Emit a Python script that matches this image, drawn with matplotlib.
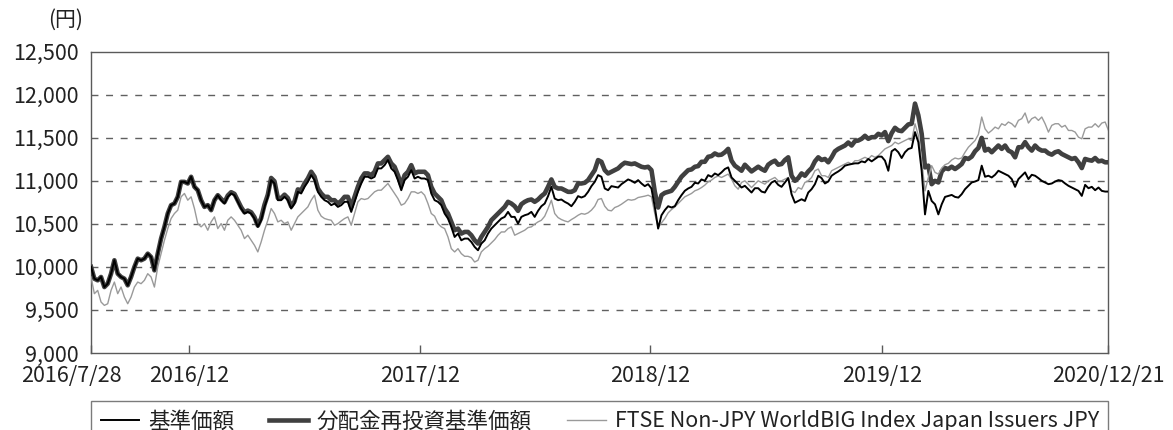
import matplotlib
matplotlib.use("Agg")
import matplotlib.pyplot as plt
import matplotlib.transforms as mtransforms
import pandas as pd

plt.rcParams["font.family"] = ["Noto Sans CJK JP", "DejaVu Sans"]

START, END = "2016-07-28", "2020-12-21"

# 基準価額 (NAV)
nav = [
    10000, 9863, 9844, 9883, 9766, 9805, 9921, 10077, 9921, 9883, 9863, 9786, 9883, 9999, 10096, 10077,
    10096, 10154, 10115, 9960, 10154, 10329, 10465, 10620, 10717, 10736, 10814, 10988, 10988, 10969, 11047,
    10930, 10891, 10775, 10697, 10717, 10659, 10775, 10833, 10775, 10736, 10814, 10853, 10833, 10756, 10678,
    10620, 10639, 10620, 10562, 10465, 10542, 10697, 10814, 11008, 10969, 10775, 10775, 10814, 10775, 10678,
    10736, 10872,
    10853, 10930, 10988, 11066, 11008, 10872, 10814, 10775, 10756, 10717, 10736, 10697, 10717, 10756, 10756,
    10639, 10756, 10872, 10969, 11047, 11047, 11027, 11047, 11144, 11144, 11182, 11241, 11144, 11105, 11008,
    10891, 11008, 11047, 11124, 11027, 11047, 11027, 11027, 11008, 10853, 10775, 10756, 10717, 10620, 10562,
    10465, 10348, 10387, 10309, 10329, 10329, 10290, 10232, 10193, 10271, 10309, 10387, 10445, 10484, 10523,
    10562, 10581, 10639,
    10581, 10581, 10503, 10581, 10600, 10612, 10639, 10581, 10651, 10705, 10736, 10822, 10930, 10794, 10775,
    10783, 10756, 10736, 10705, 10756, 10822, 10806, 10822, 10872, 10938, 10988, 11066, 11047, 10911, 10891,
    10938, 10930, 10922, 10961, 10988, 11016, 11000, 10977, 11008, 10969, 10938, 10961, 10911, 10697, 10445,
    10600, 10659, 10705, 10690, 10705, 10775, 10833, 10884, 10911, 10930, 10977, 10969, 11016, 11000, 11066,
    11047, 11085, 11066,
    11098, 11137, 11156, 11039, 11000, 10961, 10922, 10942, 10903, 10864, 10914, 10914, 10875, 10864, 10930,
    10980, 11000, 10953, 10930, 10980, 11031, 10844, 10746, 10766, 10786, 10766, 10864, 10903, 10961, 11059,
    11031, 10969, 10992, 11059, 11086, 11109, 11137, 11176, 11187, 11195, 11203, 11203, 11226, 11215, 11254,
    11226, 11254, 11281, 11281, 11234, 11117, 11343, 11370, 11332, 11265, 11332, 11370, 11382, 11566, 11449,
    11117, 10610, 10883,
    10766, 10727, 10610, 10727, 10813, 10825, 10836, 10813, 10805, 10845, 10903, 10942, 10981, 10992, 11008,
    11176, 11047, 11059, 11039, 11070, 11117, 11098, 11078, 11059, 11020, 10930, 11020, 11059, 11098, 11020,
    11070, 11059, 11031, 11000, 10981, 10961, 10969, 10992, 11008, 11000, 10969, 10942, 10922, 10903, 10883,
    10825, 10953, 10914, 10930, 10891, 10922, 10883, 10875, 10875,
]

# 分配金再投資基準価額 (NAV with distributions reinvested)
nav_reinvested = [
    10000, 9863, 9844, 9883, 9766, 9805, 9921, 10077, 9921, 9883, 9863, 9786, 9883, 9999, 10096, 10077,
    10096, 10154, 10115, 9960, 10154, 10329, 10465, 10620, 10717, 10736, 10814, 10988, 10988, 10969, 11047,
    10930, 10891, 10775, 10697, 10717, 10659, 10775, 10833, 10790, 10751, 10829, 10868, 10848, 10771, 10693,
    10635, 10654, 10635, 10577, 10480, 10567, 10722, 10839, 11033, 10994, 10800, 10800, 10839, 10800, 10703,
    10761, 10900,
    10891, 10969, 11027, 11105, 11047, 10911, 10853, 10814, 10814, 10775, 10775, 10736, 10767, 10814, 10814,
    10697, 10814, 10930, 11027, 11086, 11086, 11066, 11105, 11202, 11202, 11241, 11279, 11202, 11163, 11066,
    10950, 11066, 11105, 11182, 11086, 11105, 11105, 11105, 11066, 10930, 10853, 10814, 10775, 10678, 10620,
    10523, 10426, 10445, 10387, 10406, 10406, 10368, 10309, 10271, 10348, 10406, 10465, 10542, 10581, 10620,
    10659, 10697, 10756,
    10736, 10705, 10651, 10728, 10756, 10775, 10783, 10756, 10783, 10822, 10853, 10930, 11016, 10930, 10911,
    10911, 10891, 10872, 10872, 10891, 10969, 10969, 10977, 11008, 11066, 11124, 11241, 11221, 11124, 11085,
    11105, 11124, 11144, 11182, 11210, 11202, 11194, 11202, 11182, 11163, 11155, 11163, 11124, 10872, 10690,
    10833, 10860, 10872, 10884, 10930, 10988, 11047, 11085, 11124, 11132, 11163, 11171, 11221, 11221, 11279,
    11287, 11318, 11299,
    11304, 11332, 11371, 11234, 11176, 11148, 11117, 11187, 11148, 11109, 11137, 11164, 11137, 11117, 11187,
    11215, 11234, 11187, 11195, 11242, 11273, 11059, 11000, 11031, 11086, 11059, 11109, 11148, 11226, 11273,
    11242, 11254, 11215, 11273, 11343, 11371, 11390, 11410, 11445, 11410, 11461, 11468, 11488, 11523, 11488,
    11507, 11507, 11546, 11527, 11566, 11461, 11554, 11616, 11585, 11577, 11616, 11655, 11663, 11897, 11761,
    11546, 11156, 11176,
    10961, 11000, 10981, 11109, 11148, 11137, 11164, 11137, 11164, 11195, 11265, 11254, 11281, 11343, 11382,
    11499, 11351, 11371, 11332, 11371, 11410, 11371, 11410, 11351, 11332, 11273, 11390, 11390, 11449, 11390,
    11351, 11410, 11371, 11351, 11351, 11320, 11304, 11332, 11343, 11312, 11293, 11273, 11254, 11265, 11215,
    11148, 11254, 11242, 11234, 11265, 11226, 11234, 11215, 11215,
]

# FTSE Non-JPY WorldBIG Index Japan Issuers JPY (rebased)
benchmark = [
    9883, 9689, 9727, 9592, 9553, 9572, 9727, 9824, 9689, 9766, 9650, 9572, 9650, 9766, 9824, 9805,
    9844, 9921, 9883, 9766, 9999, 10154, 10309, 10445, 10562, 10620, 10659, 10814, 10853, 10775, 10814,
    10678, 10503, 10465, 10503, 10426, 10523, 10581, 10445, 10503, 10426, 10542, 10581, 10542, 10484, 10426,
    10329, 10368, 10309, 10251, 10174, 10290, 10426, 10542, 10678, 10620, 10523, 10542, 10503, 10523, 10426,
    10503, 10581,
    10620, 10659, 10697, 10775, 10833, 10659, 10589, 10562, 10550, 10542, 10484, 10503, 10534, 10562, 10581,
    10484, 10620, 10756, 10794, 10783, 10794, 10833, 10872, 10891, 10891, 10930, 10969, 10911, 10853, 10794,
    10717, 10736, 10794, 10872, 10872, 10853, 10872, 10833, 10736, 10620, 10589, 10503, 10465, 10445, 10348,
    10212, 10174, 10212, 10154, 10123, 10123, 10108, 10057, 10077, 10174, 10212, 10240, 10278, 10317, 10368,
    10406, 10406, 10445,
    10465, 10368, 10387, 10406, 10426, 10457, 10465, 10496, 10523, 10542, 10589, 10678, 10775, 10620, 10573,
    10550, 10534, 10523, 10550, 10573, 10600, 10620, 10612, 10628, 10659, 10705, 10783, 10794, 10705, 10659,
    10651, 10690, 10705, 10728, 10756, 10783, 10775, 10783, 10806, 10814, 10822, 10833, 10814, 10620, 10457,
    10511, 10562, 10628, 10666, 10697, 10736, 10775, 10814, 10833, 10853, 10884, 10899, 10922, 10950, 10988,
    11008, 11039, 11055,
    11039, 11059, 11078, 11020, 10942, 10903, 10981, 11000, 10961, 10922, 10961, 11000, 10981, 10961, 11000,
    11020, 11039, 11000, 11000, 11020, 11039, 10883, 10864, 10922, 10903, 10981, 11000, 11039, 11117, 11137,
    11059, 11059, 11039, 11117, 11137, 11156, 11176, 11195, 11215, 11195, 11234, 11234, 11254, 11273, 11254,
    11293, 11273, 11293, 11332, 11371, 11390, 11410, 11449, 11429, 11449, 11468, 11488, 11468, 11663, 11527,
    11234, 10883, 11039,
    11176, 11098, 11078, 11148, 11187, 11203, 11242, 11265, 11254, 11265, 11332, 11390, 11429, 11468, 11538,
    11741, 11604, 11554, 11585, 11624, 11604, 11663, 11644, 11683, 11663, 11624, 11702, 11722, 11788, 11671,
    11722, 11741, 11702, 11741, 11663, 11566, 11644, 11663, 11663, 11624, 11644, 11585, 11585, 11566, 11507,
    11488, 11604, 11624, 11624, 11663, 11624, 11671, 11683, 11585,
]

tick_dates = ["2016-07-28", "2016-12-30", "2017-12-29", "2018-12-28", "2019-12-30", "2020-12-21"]
tick_labels = ["2016/7/28", "2016/12", "2017/12", "2018/12", "2019/12", "2020/12/21"]
y_ticks = [9000, 9500, 10000, 10500, 11000, 11500, 12000, 12500]
series_labels = ["基準価額", "分配金再投資基準価額", "FTSE Non-JPY WorldBIG Index Japan Issuers JPY"]

TEXT = "#222222"
FRAME = "#5a5a5a"


def main():
    dates = pd.date_range(START, END, periods=len(nav))

    fig = plt.figure(figsize=(11.73, 4.30), dpi=100)
    ax = fig.add_axes([0.0776, 0.1791, 0.8674, 0.7007])

    ax.plot(dates, nav_reinvested, color="#404040", lw=3.3, solid_joinstyle="round",
            label=series_labels[1], zorder=3)
    ax.plot(dates, benchmark, color="#9a9a9a", lw=1.0, label=series_labels[2], zorder=4)
    ax.plot(dates, nav, color="black", lw=1.4, label=series_labels[0], zorder=5)

    ax.set_xlim(pd.Timestamp(START), pd.Timestamp(END))
    ax.set_ylim(9000, 12500)

    for v in y_ticks[1:-1]:
        ax.axhline(v, color="#606060", lw=1.0, ls=(0, (5, 5.5)), zorder=1)

    ax.set_yticks(y_ticks)
    ax.set_yticklabels([f"{v:,}" for v in y_ticks])
    ax.set_xticks(pd.to_datetime(tick_dates))
    ax.set_xticklabels(tick_labels)
    ax.tick_params(axis="y", length=0, pad=9, labelsize=15.5, labelcolor=TEXT)
    ax.tick_params(axis="x", direction="in", length=5.5, width=1.0, color=FRAME,
                   pad=9, labelsize=15.5, labelcolor=TEXT)

    # the start label sits left of the axis so it clears "2016/12"
    first = ax.get_xticklabels()[0]
    first.set_transform(first.get_transform()
                        + mtransforms.ScaledTranslation(-0.20, 0, fig.dpi_scale_trans))

    for sp in ax.spines.values():
        sp.set_color(FRAME)
        sp.set_linewidth(1.0)

    fig.text(0.0563, 0.953, "(円)", ha="center", va="center", fontsize=15, color=TEXT)

    handles, labels = ax.get_legend_handles_labels()
    order = [labels.index(s) for s in series_labels]
    leg = fig.legend([handles[i] for i in order], [labels[i] for i in order],
                     loc="upper left", bbox_to_anchor=(0.0776, 0.0686, 0.8674, 0),
                     mode="expand", ncol=3, fontsize=15.5, frameon=True, fancybox=False,
                     borderaxespad=0, borderpad=0.45, handlelength=1.8, handletextpad=0.4,
                     columnspacing=1.1, labelcolor=TEXT)
    leg.get_frame().set_edgecolor(FRAME)
    leg.get_frame().set_linewidth(1.0)

    fig.savefig("out.png", dpi=100)


if __name__ == "__main__":
    main()
